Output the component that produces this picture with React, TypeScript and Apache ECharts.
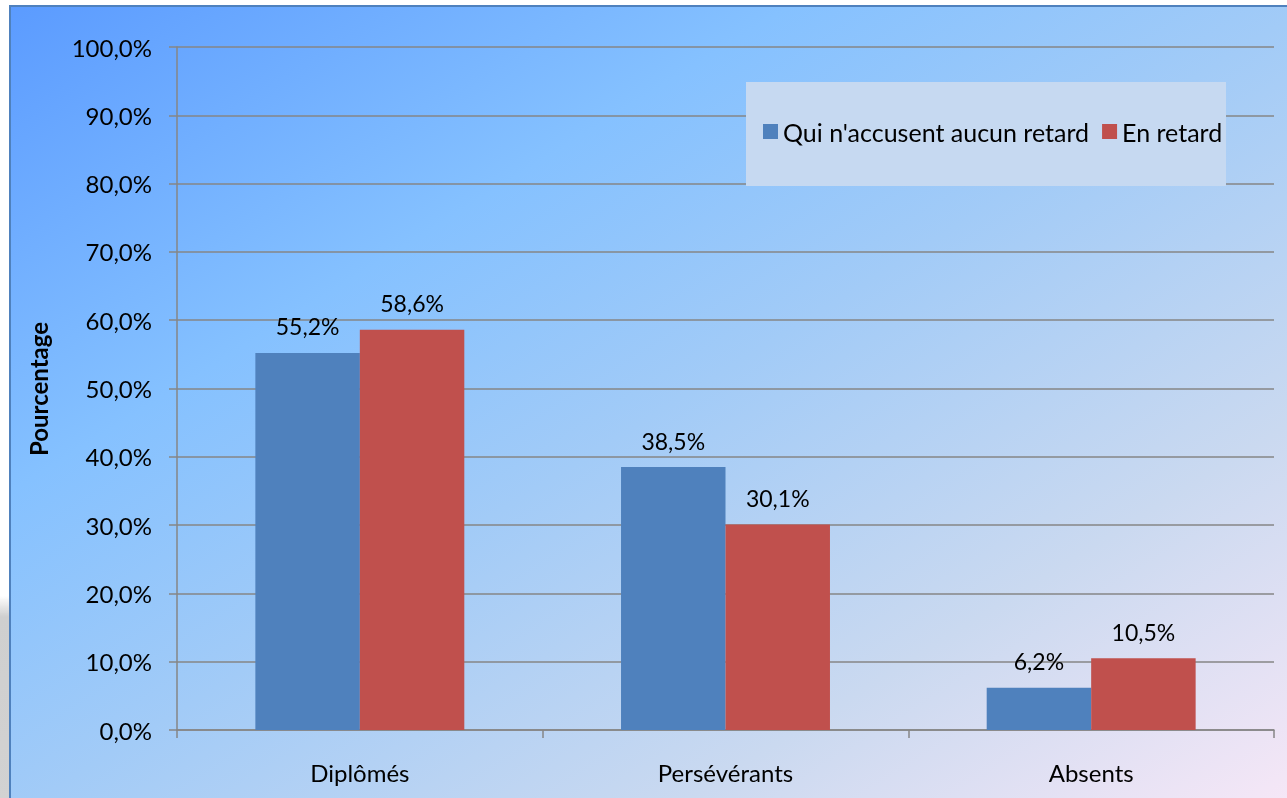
import React, { useEffect, useRef } from "react";
import * as echarts from "echarts";

const categories = ["Diplômés", "Persévérants", "Absents"];
const seriesNames = ["Qui n'accusent aucun retard", "En retard"];
const onTime = [55.2, 38.5, 6.2];
const late = [58.6, 30.1, 10.5];
const yTitle = "Pourcentage";

const FONT = "Lato";
const fmt = (v: number) => v.toFixed(1).replace(".", ",") + "%";

export default function App() {
  const ref = useRef<HTMLDivElement>(null);
  useEffect(() => {
    if (!ref.current) return;
    const chart = echarts.init(ref.current, null, { renderer: "svg" });
    const label = {
      show: true,
      position: "top",
      distance: 15,
      color: "#000",
      fontFamily: FONT,
      fontSize: 23,
      formatter: (p: any) => fmt(p.value),
    };
    chart.setOption({
      animation: false,
      textStyle: { fontFamily: FONT },
      graphic: [
        {
          type: "rect",
          z: -10,
          shape: { x: 0, y: 596, width: 10, height: 210 },
          style: {
            fill: new echarts.graphic.LinearGradient(0, 0, 0, 1, [
              { offset: 0, color: "rgba(205,205,205,0)" },
              { offset: 0.1, color: "#cfcfcf" },
              { offset: 1, color: "#d2d2d2" },
            ]),
          },
        },
        {
          type: "rect",
          z: -10,
          shape: { x: 10, y: 6, width: 1300, height: 810 },
          style: {
            fill: new echarts.graphic.LinearGradient(0, 0, 1, 1, [
              { offset: 0, color: "#5b9bff" },
              { offset: 0.3, color: "#85c1ff" },
              { offset: 0.5, color: "#a2cbf7" },
              { offset: 0.75, color: "#cad9f0" },
              { offset: 1, color: "#f9e8f7" },
            ]),
            stroke: "#4f81bd",
            lineWidth: 2,
          },
        },
        {
          type: "rect",
          z: 3,
          shape: { x: 746, y: 82, width: 480, height: 104 },
          style: { fill: "#c6d9f1" },
        },
        {
          type: "text",
          x: 38,
          y: 389,
          rotation: Math.PI / 2,
          style: {
            text: yTitle,
            fill: "#000",
            font: `bold 24px ${FONT}`,
            align: "center",
            verticalAlign: "middle",
          },
        },
      ],
      legend: {
        left: 758,
        top: 114,
        z: 4,
        itemWidth: 15,
        itemHeight: 15,
        itemGap: 13,
        icon: "rect",
        textStyle: { color: "#000", fontFamily: FONT, fontSize: 25 },
        data: seriesNames,
      },
      grid: { left: 177, top: 47, right: 13, bottom: 68 },
      xAxis: {
        type: "category",
        data: categories,
        axisLine: { lineStyle: { color: "#868686", width: 1.5 } },
        axisTick: { show: true, length: 8, lineStyle: { color: "#868686", width: 1.5 } },
        axisLabel: { margin: 30, color: "#000", fontFamily: FONT, fontSize: 24 },
      },
      yAxis: {
        type: "value",
        min: 0,
        max: 100,
        interval: 10,
        axisLine: { show: true, lineStyle: { color: "#868686", width: 1.5 } },
        axisTick: { show: true, length: 8, lineStyle: { color: "#868686", width: 1.5 } },
        splitLine: { show: true, lineStyle: { color: "#868686", width: 1.5 } },
        axisLabel: {
          margin: 25,
          color: "#000",
          fontFamily: FONT,
          fontSize: 24,
          formatter: (v: number) => fmt(v),
        },
      },
      series: [
        {
          name: seriesNames[0],
          type: "bar",
          data: onTime,
          barGap: "0%",
          barCategoryGap: "42.86%",
          itemStyle: { color: "#4f81bd" },
          label,
        },
        {
          name: seriesNames[1],
          type: "bar",
          data: late,
          barGap: "0%",
          barCategoryGap: "42.86%",
          itemStyle: { color: "#c0504d" },
          label,
        },
      ],
    });
    return () => chart.dispose();
  }, []);
  return (
    <div
      ref={ref}
      style={{ position: "fixed", left: 0, top: 0, width: 1287, height: 798 }}
    />
  );
}
